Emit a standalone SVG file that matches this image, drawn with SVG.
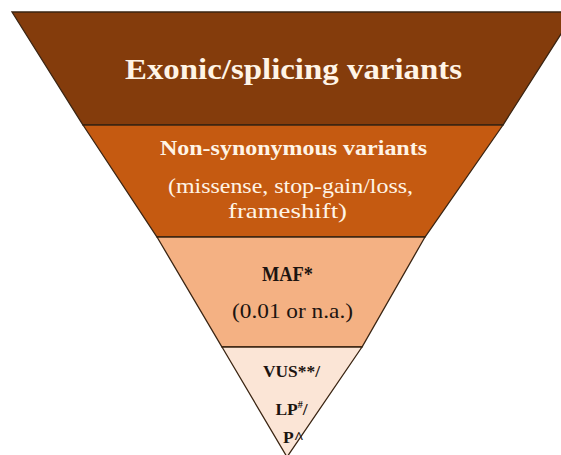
<svg xmlns="http://www.w3.org/2000/svg" width="561" height="455" viewBox="0 0 561 455">
<style>
.band{stroke:#3a2412;stroke-width:1.3;stroke-linejoin:miter}
.t{font-family:"Liberation Serif","Times New Roman",serif;text-anchor:middle}
.b{font-weight:bold}
.light{fill:#FFF4E6}
.dark{fill:#1c1410}
</style>
<rect width="561" height="455" fill="#ffffff"/>
<g id="band-exonic">
<polygon class="band" fill="#843C0C" points="12,12 575,12 503,125 83,125"/>
<text class="t b light" x="293.5" y="79" font-size="29.5" textLength="337" lengthAdjust="spacingAndGlyphs">Exonic/splicing variants</text>
</g>
<g id="band-nonsyn">
<polygon class="band" fill="#C55A11" points="83,125 503,125 425,237 157,237"/>
<text class="t b light" x="293.5" y="155" font-size="21" textLength="267" lengthAdjust="spacingAndGlyphs">Non-synonymous variants</text>
<text class="t light" x="290.5" y="193" font-size="21" textLength="245" lengthAdjust="spacingAndGlyphs">(missense, stop-gain/loss,</text>
<text class="t light" x="287.5" y="218" font-size="21" textLength="119" lengthAdjust="spacingAndGlyphs">frameshift)</text>
</g>
<g id="band-maf">
<polygon class="band" fill="#F4B183" points="157,237 425,237 362,347 222,347"/>
<text class="t b dark" x="287.5" y="281" font-size="21" textLength="51" lengthAdjust="spacingAndGlyphs">MAF*</text>
<text class="t dark" x="292.5" y="318" font-size="21" textLength="121" lengthAdjust="spacingAndGlyphs">(0.01 or n.a.)</text>
</g>
<g id="band-class">
<polygon class="band" fill="#FBE5D6" points="222,347 362,347 287,457"/>
<text class="t b dark" x="291.5" y="377" font-size="17.5" textLength="57" lengthAdjust="spacingAndGlyphs">VUS**/</text>
<text class="t b dark" x="291.5" y="415" font-size="17.5">LP<tspan font-size="10" dy="-7">#</tspan><tspan dy="7">/</tspan></text>
<text class="t b dark" x="293.5" y="443" font-size="17.5">P^</text>
</g>
</svg>
